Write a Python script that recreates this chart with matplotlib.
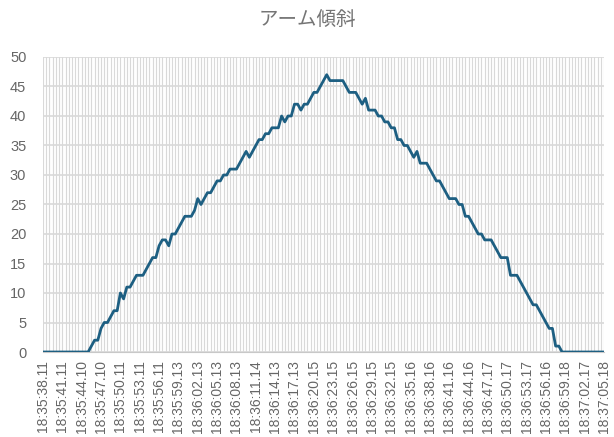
import matplotlib.pyplot as plt
import numpy as np

plt.rcParams['font.family'] = ['Liberation Sans', 'DejaVu Sans']

# sampled about every 0.5 s, one label every 6 samples
angle = [0, 0, 0, 0, 0, 0, 0, 0, 0, 0, 0, 0, 0, 0, 0,
         1, 2, 2, 4, 5, 5, 6, 7, 7, 10, 9, 11, 11, 12, 13,
         13, 13, 14, 15, 16, 16, 18, 19, 19, 18, 20, 20, 21, 22, 23,
         23, 23, 24, 26, 25, 26, 27, 27, 28, 29, 29, 30, 30, 31, 31,
         31, 32, 33, 34, 33, 34, 35, 36, 36, 37, 37, 38, 38, 38, 40,
         39, 40, 40, 42, 42, 41, 42, 42, 43, 44, 44, 45, 46, 47, 46,
         46, 46, 46, 46, 45, 44, 44, 44, 43, 42, 43, 41, 41, 41, 40,
         40, 39, 39, 38, 38, 36, 36, 35, 35, 34, 33, 34, 32, 32, 32,
         31, 30, 29, 29, 28, 27, 26, 26, 26, 25, 25, 23, 23, 22, 21,
         20, 20, 19, 19, 19, 18, 17, 16, 16, 16, 13, 13, 13, 12, 11,
         10, 9, 8, 8, 7, 6, 5, 4, 4, 1, 1, 0, 0, 0, 0,
         0, 0, 0, 0, 0, 0, 0, 0, 0, 0]

time_labels = ['18:35:38.11', '18:35:41.11', '18:35:44.10', '18:35:47.10',
               '18:35:50.11', '18:35:53.11', '18:35:56.11', '18:35:59.13',
               '18:36:02.13', '18:36:05.13', '18:36:08.13', '18:36:11.14',
               '18:36:14.13', '18:36:17.13', '18:36:20.15', '18:36:23.15',
               '18:36:26.15', '18:36:29.15', '18:36:32.15', '18:36:35.16',
               '18:36:38.16', '18:36:41.16', '18:36:44.16', '18:36:47.17',
               '18:36:50.17', '18:36:53.17', '18:36:56.16', '18:36:59.18',
               '18:37:02.17', '18:37:05.18']
label_every = 6

x = np.arange(len(angle))

fig = plt.figure(figsize=(6.14, 4.37), dpi=100)
ax = fig.add_axes([43 / 614, 1 - 352 / 437, 561 / 614, 295 / 437])

ax.plot(x, angle, color='#1d5f82', linewidth=2, zorder=3)

ax.set_xlim(0, len(angle) - 1)
ax.set_ylim(0, 50)
ax.set_yticks(range(0, 51, 5))
ax.set_xticks(x, minor=True)
ax.set_xticks(x[::label_every])
ax.set_xticklabels(time_labels, rotation=90)

ax.grid(True, which='both', axis='x', color='#d9d9d9', linewidth=0.8)
ax.grid(True, which='major', axis='y', color='#d9d9d9', linewidth=1.2)
ax.set_axisbelow(True)
ax.tick_params(which='both', length=0)
ax.tick_params(axis='x', labelsize=10, colors='#666666', pad=6)
ax.tick_params(axis='y', labelsize=10.5, colors='#666666', pad=12)
for s in ['top', 'right', 'left']:
    ax.spines[s].set_visible(False)
ax.spines['bottom'].set_color('#c8c8c8')

fig.text(0.5, 1 - 20 / 437, 'アーム傾斜', ha='center', va='center',
         fontsize=14, color='#757575', family=['Noto Sans CJK JP', 'DejaVu Sans'])

plt.savefig('out.png')
